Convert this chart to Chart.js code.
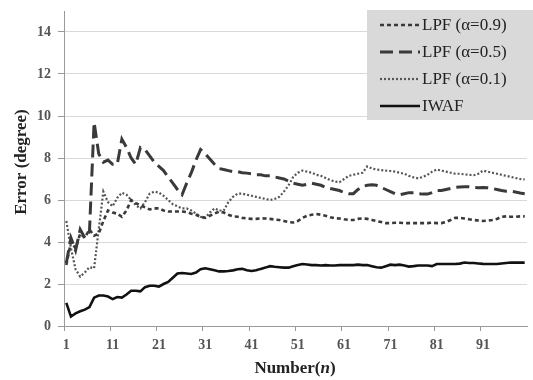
<!DOCTYPE html>
<html><head><meta charset="utf-8">
<script src="https://cdn.jsdelivr.net/npm/chart.js@4/dist/chart.umd.min.js"></script>
<style>html,body{margin:0;padding:0;background:#fff;}</style>
</head><body>
<canvas id="c" width="533" height="380" style="width:533px;height:380px;display:block"></canvas>
<script>
const categories = Array.from({length: 100}, (_, i) => String(i + 1));
const xTickLabels = ['1','11','21','31','41','51','61','71','81','91'];
const yTickValues = [0, 2, 4, 6, 8, 10, 12, 14];
const seriesNames = ['LPF (\u03b1=0.9)', 'LPF (\u03b1=0.5)', 'LPF (\u03b1=0.1)', 'IWAF'];

const lpf09 = [2.9,4.0,3.7,4.4,4.2,4.6,4.3,4.4,5.0,5.5,
  5.4,5.35,5.2,5.5,6.0,5.85,5.75,5.65,5.55,5.6,
  5.6,5.5,5.45,5.45,5.45,5.45,5.42,5.35,5.3,5.2,
  5.15,5.25,5.35,5.45,5.4,5.3,5.22,5.2,5.15,5.12,
  5.1,5.1,5.13,5.12,5.1,5.07,5.05,5.0,4.95,4.93,
  5.0,5.15,5.25,5.3,5.33,5.3,5.25,5.18,5.13,5.12,
  5.08,5.05,5.05,5.1,5.12,5.1,5.05,5.0,4.95,4.9,
  4.9,4.92,4.92,4.9,4.9,4.9,4.9,4.9,4.9,4.92,
  4.9,4.9,4.95,5.05,5.15,5.15,5.12,5.08,5.05,5.02,
  5.0,5.02,5.05,5.1,5.2,5.22,5.2,5.2,5.22,5.22];

const lpf05 = [3.0,4.2,3.6,4.6,4.2,4.5,9.7,8.2,7.8,7.9,
  7.7,7.7,8.9,8.5,8.0,7.7,8.5,8.4,8.1,7.8,
  7.6,7.4,7.1,6.8,6.5,6.25,6.8,7.3,7.9,8.4,
  8.2,7.95,7.7,7.5,7.45,7.4,7.35,7.35,7.3,7.28,
  7.25,7.2,7.2,7.15,7.15,7.1,7.05,7.0,6.9,6.8,
  6.75,6.7,6.75,6.8,6.75,6.7,6.6,6.55,6.5,6.45,
  6.35,6.3,6.3,6.5,6.65,6.7,6.72,6.7,6.6,6.5,
  6.4,6.3,6.25,6.3,6.35,6.35,6.3,6.28,6.28,6.35,
  6.45,6.45,6.5,6.55,6.6,6.62,6.63,6.63,6.6,6.58,
  6.6,6.58,6.55,6.5,6.45,6.42,6.42,6.38,6.33,6.3];

const lpf01 = [5.0,3.7,2.7,2.35,2.55,2.8,2.75,4.6,6.4,5.9,
  5.7,6.1,6.35,6.25,6.0,5.75,5.6,5.9,6.3,6.4,
  6.35,6.2,6.0,5.8,5.7,5.6,5.6,5.5,5.35,5.2,
  5.15,5.4,5.6,5.5,5.5,5.9,6.15,6.3,6.3,6.25,
  6.2,6.15,6.1,6.05,6.0,6.05,6.15,6.4,6.7,7.1,
  7.3,7.4,7.35,7.3,7.2,7.15,7.05,6.95,6.88,6.85,
  7.0,7.15,7.2,7.25,7.3,7.6,7.5,7.45,7.42,7.4,
  7.38,7.35,7.3,7.25,7.15,7.08,7.03,7.1,7.2,7.35,
  7.45,7.4,7.35,7.3,7.25,7.25,7.22,7.2,7.18,7.25,
  7.4,7.35,7.3,7.25,7.2,7.15,7.1,7.05,7.0,6.98];

const iwaf = [1.1,0.45,0.6,0.7,0.78,0.9,1.35,1.45,1.45,1.4,
  1.28,1.38,1.35,1.5,1.68,1.68,1.65,1.85,1.92,1.92,
  1.88,2.0,2.1,2.3,2.5,2.52,2.5,2.48,2.55,2.7,
  2.75,2.7,2.65,2.6,2.6,2.62,2.65,2.7,2.72,2.65,
  2.62,2.65,2.72,2.78,2.85,2.82,2.8,2.78,2.78,2.85,
  2.9,2.95,2.93,2.9,2.9,2.88,2.9,2.88,2.88,2.9,
  2.9,2.9,2.9,2.92,2.9,2.9,2.85,2.8,2.78,2.85,
  2.92,2.9,2.92,2.88,2.83,2.85,2.88,2.88,2.88,2.85,
  2.95,2.95,2.95,2.95,2.95,2.97,3.02,3.0,3.0,2.98,
  2.96,2.95,2.95,2.95,2.98,3.0,3.02,3.02,3.02,3.02];

const styles = [
  {color: '#3a3a3a', width: 2.6, dash: [4, 3]},
  {color: '#3a3a3a', width: 3, dash: [13, 6]},
  {color: '#555555', width: 2.2, dash: [2, 2]},
  {color: '#111111', width: 2.6, dash: []}
];
const seriesData = [lpf09, lpf05, lpf01, iwaf];

const SERIF = '"Liberation Serif", "Times New Roman", serif';

const overlay = {
  id: 'overlay',
  afterDraw(chart) {
    const ctx = chart.ctx;
    ctx.save();
    ctx.fillStyle = '#d9d9d9';
    ctx.fillRect(367, 10, 166, 110);
    const ys = [25, 52, 79, 106];
    chart.data.datasets.forEach((ds, i) => {
      ctx.beginPath();
      ctx.strokeStyle = ds.borderColor;
      ctx.lineWidth = ds.borderWidth;
      ctx.setLineDash(ds.borderDash || []);
      ctx.moveTo(380, ys[i]);
      ctx.lineTo(420, ys[i]);
      ctx.stroke();
      ctx.setLineDash([]);
      ctx.fillStyle = '#222';
      ctx.font = '17px ' + SERIF;
      ctx.textBaseline = 'middle';
      ctx.textAlign = 'left';
      ctx.fillText(ds.label, 422, ys[i] + 1);
    });
    ctx.save();
    ctx.translate(22, 162);
    ctx.rotate(-Math.PI / 2);
    ctx.font = 'bold 17px ' + SERIF;
    ctx.fillStyle = '#222';
    ctx.textAlign = 'center';
    ctx.textBaseline = 'middle';
    ctx.fillText('Error (degree)', 0, 0);
    ctx.restore();
    ctx.font = 'bold 17px ' + SERIF;
    const p1 = 'Number(', p3 = ')';
    const w1 = ctx.measureText(p1).width;
    const w3 = ctx.measureText(p3).width;
    ctx.font = 'bold italic 17px ' + SERIF;
    const w2 = ctx.measureText('n').width;
    let x = 295 - (w1 + w2 + w3) / 2;
    const y = 369;
    ctx.textBaseline = 'middle';
    ctx.textAlign = 'left';
    ctx.fillStyle = '#222';
    ctx.font = 'bold 17px ' + SERIF;
    ctx.fillText(p1, x, y); x += w1;
    ctx.font = 'bold italic 17px ' + SERIF;
    ctx.fillText('n', x, y); x += w2;
    ctx.font = 'bold 17px ' + SERIF;
    ctx.fillText(p3, x, y);
    ctx.restore();
  }
};

new Chart(document.getElementById('c'), {
  type: 'line',
  data: {
    labels: categories,
    datasets: seriesData.map((d, i) => ({
      label: seriesNames[i],
      data: d,
      borderColor: styles[i].color,
      borderWidth: styles[i].width,
      borderDash: styles[i].dash,
      pointRadius: 0,
      tension: 0,
      fill: false
    }))
  },
  options: {
    responsive: false,
    animation: false,
    layout: {padding: {top: 11, right: 6, left: 0, bottom: 0}},
    plugins: {legend: {display: false}, tooltip: {enabled: false}},
    scales: {
      x: {
        offset: true,
        grid: {
          offset: true,
          drawOnChartArea: false,
          tickLength: 5,
          tickColor: (c) => (c.index % 10 === 0 ? '#9a9a9a' : 'rgba(0,0,0,0)')
        },
        border: {color: '#9a9a9a', width: 1},
        ticks: {
          autoSkip: false,
          maxRotation: 0,
          padding: 6,
          color: '#555',
          font: {family: SERIF, size: 14, weight: 'bold'},
          callback: function (v, i) {
            const l = categories[i];
            return xTickLabels.includes(l) ? l : '';
          }
        },
        afterFit: (s) => { s.height = 54; s.paddingLeft = 0; s.paddingRight = 0; }
      },
      y: {
        min: 0,
        max: 15,
        afterBuildTicks: (s) => { s.ticks = yTickValues.map(v => ({value: v})); },
        grid: {color: '#d9d9d9', tickColor: '#9a9a9a', tickLength: 6, lineWidth: 1},
        border: {color: '#9a9a9a', width: 1},
        ticks: {
          padding: 7,
          color: '#555',
          font: {family: SERIF, size: 14, weight: 'bold'}
        },
        afterFit: (s) => { s.width = 64; s.paddingTop = 0; s.paddingBottom = 0; }
      }
    }
  },
  plugins: [overlay]
});
</script>
</body></html>
